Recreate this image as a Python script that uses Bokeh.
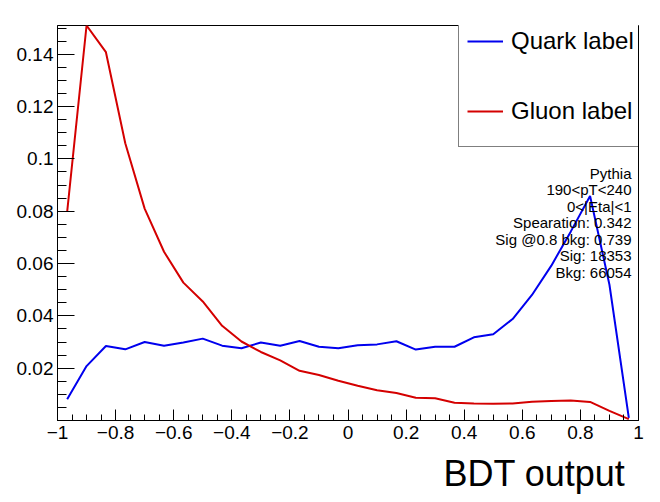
from bokeh.plotting import figure
from bokeh.models import (ColumnDataSource, Range1d, FixedTicker, CustomJSTickFormatter,
                          Legend, LegendItem, Label, Title)
from bokeh.embed import file_html
from bokeh.resources import INLINE

# BDT score bin centres (30 bins over [-1, 1])
bdt_bins = [-0.9667, -0.9, -0.8333, -0.7667, -0.7, -0.6333, -0.5667, -0.5, -0.4333, -0.3667,
            -0.3, -0.2333, -0.1667, -0.1, -0.0333, 0.0333, 0.1, 0.1667, 0.2333, 0.3,
            0.3667, 0.4333, 0.5, 0.5667, 0.6333, 0.7, 0.7667, 0.8333, 0.9, 0.9667]

# normalised BDT output, quark jets
quark = [0.0081, 0.0208, 0.0285, 0.0272, 0.0300, 0.0286, 0.0298, 0.0313, 0.0286, 0.0276,
         0.0298, 0.0286, 0.0304, 0.0282, 0.0276, 0.0288, 0.0291, 0.0303, 0.0271, 0.0282,
         0.0282, 0.0318, 0.0330, 0.0388, 0.0480, 0.0592, 0.0722, 0.0858, 0.0519, 0.0010]

# normalised BDT output, gluon jets
gluon = [0.0798, 0.1510, 0.1408, 0.1060, 0.0810, 0.0645, 0.0527, 0.0455, 0.0362, 0.0302,
         0.0262, 0.0230, 0.0190, 0.0174, 0.0152, 0.0133, 0.0116, 0.0105, 0.0087, 0.0085,
         0.0068, 0.0065, 0.0064, 0.0065, 0.0072, 0.0075, 0.0076, 0.0071, 0.0037, 0.0005]

x_major = [-1.0, -0.8, -0.6, -0.4, -0.2, 0.0, 0.2, 0.4, 0.6, 0.8, 1.0]
y_major = [0.02, 0.04, 0.06, 0.08, 0.10, 0.12, 0.14]

info_lines = ["Pythia", "190<pT<240", "0<|Eta|<1", "Spearation: 0.342",
              "Sig @0.8 bkg: 0.739", "Sig: 18353", "Bkg: 66054"]

FONT = "Liberation Sans"
W, H = 660, 502
LEFT, RIGHT, TOP, BOTTOM = 57, 22, 25, 82
X0, X1 = -1.0, 1.0
Y0, Y1 = 0.0, 0.151

p = figure(width=W, height=H, output_backend="svg", toolbar_location=None,
           x_range=Range1d(X0, X1), y_range=Range1d(Y0, Y1),
           min_border_left=LEFT, min_border_right=RIGHT,
           min_border_top=TOP, min_border_bottom=BOTTOM)
p.background_fill_color = "white"
p.border_fill_color = "white"
p.grid.visible = False
p.outline_line_color = "black"
p.outline_line_width = 1

fw = W - LEFT - RIGHT
fh = H - TOP - BOTTOM


def fx(px):
    return X0 + (px - LEFT) / fw * (X1 - X0)


def fy(py):
    return Y0 + (TOP + fh - py) / fh * (Y1 - Y0)


fmt = CustomJSTickFormatter(code="""
    var s = String(parseFloat(tick.toFixed(4)));
    return s.replace('-', '\\u2212');
""")

x_minor = [round(-1 + 0.05 * i, 3) for i in range(41)]
y_minor = [round(0.005 * i, 3) for i in range(1, 31)]

xa = p.xaxis[0]
xa.ticker = FixedTicker(ticks=x_major, minor_ticks=x_minor)
xa.formatter = fmt
xa.major_tick_in = 11
xa.major_tick_out = 0
xa.minor_tick_in = 6
xa.minor_tick_out = 0
xa.major_label_standoff = 5

ya = p.yaxis[0]
ya.ticker = FixedTicker(ticks=y_major, minor_ticks=y_minor)
ya.formatter = fmt
ya.major_tick_in = 17
ya.major_tick_out = 0
ya.minor_tick_in = 9
ya.minor_tick_out = 0
ya.major_label_standoff = 4

for ax in (xa, ya):
    ax.axis_line_color = "black"
    ax.major_tick_line_color = "black"
    ax.minor_tick_line_color = "black"
    ax.major_label_text_font = FONT
    ax.major_label_text_font_size = "19px"
    ax.major_label_text_color = "black"

src = ColumnDataSource(data=dict(x=bdt_bins, quark=quark, gluon=gluon))
r_q = p.line("x", "quark", source=src, line_color="#0000ee", line_width=2)
r_g = p.line("x", "gluon", source=src, line_color="#d40000", line_width=2)

legend = Legend(items=[LegendItem(label="Quark label", renderers=[r_q]),
                       LegendItem(label="Gluon label", renderers=[r_g])],
                location=(458 - LEFT, TOP + fh - 147),
                orientation="vertical",
                border_line_color="black", border_line_width=1,
                background_fill_color="white", background_fill_alpha=1.0,
                padding=8, spacing=16, margin=0,
                glyph_width=36, glyph_height=54,
                label_height=54, label_width=200, label_standoff=8,
                label_text_font=FONT, label_text_font_size="24px",
                label_text_color="black", label_text_baseline="middle")
p.add_layout(legend)

# run summary block, right aligned
for i, line in enumerate(info_lines):
    p.add_layout(Label(x=fx(631), y=fy(172.7 + 16.55 * i), text=line,
                       text_align="right", text_baseline="alphabetic",
                       text_font=FONT, text_font_size="15px", text_color="black"))

# x-axis title, right aligned under the axis
p.add_layout(Title(text="BDT output", align="right", offset=13, standoff=18,
                   text_font=FONT, text_font_size="36px", text_font_style="normal",
                   text_color="black"), "below")

open("out.html", "w").write(file_html(p, INLINE))
